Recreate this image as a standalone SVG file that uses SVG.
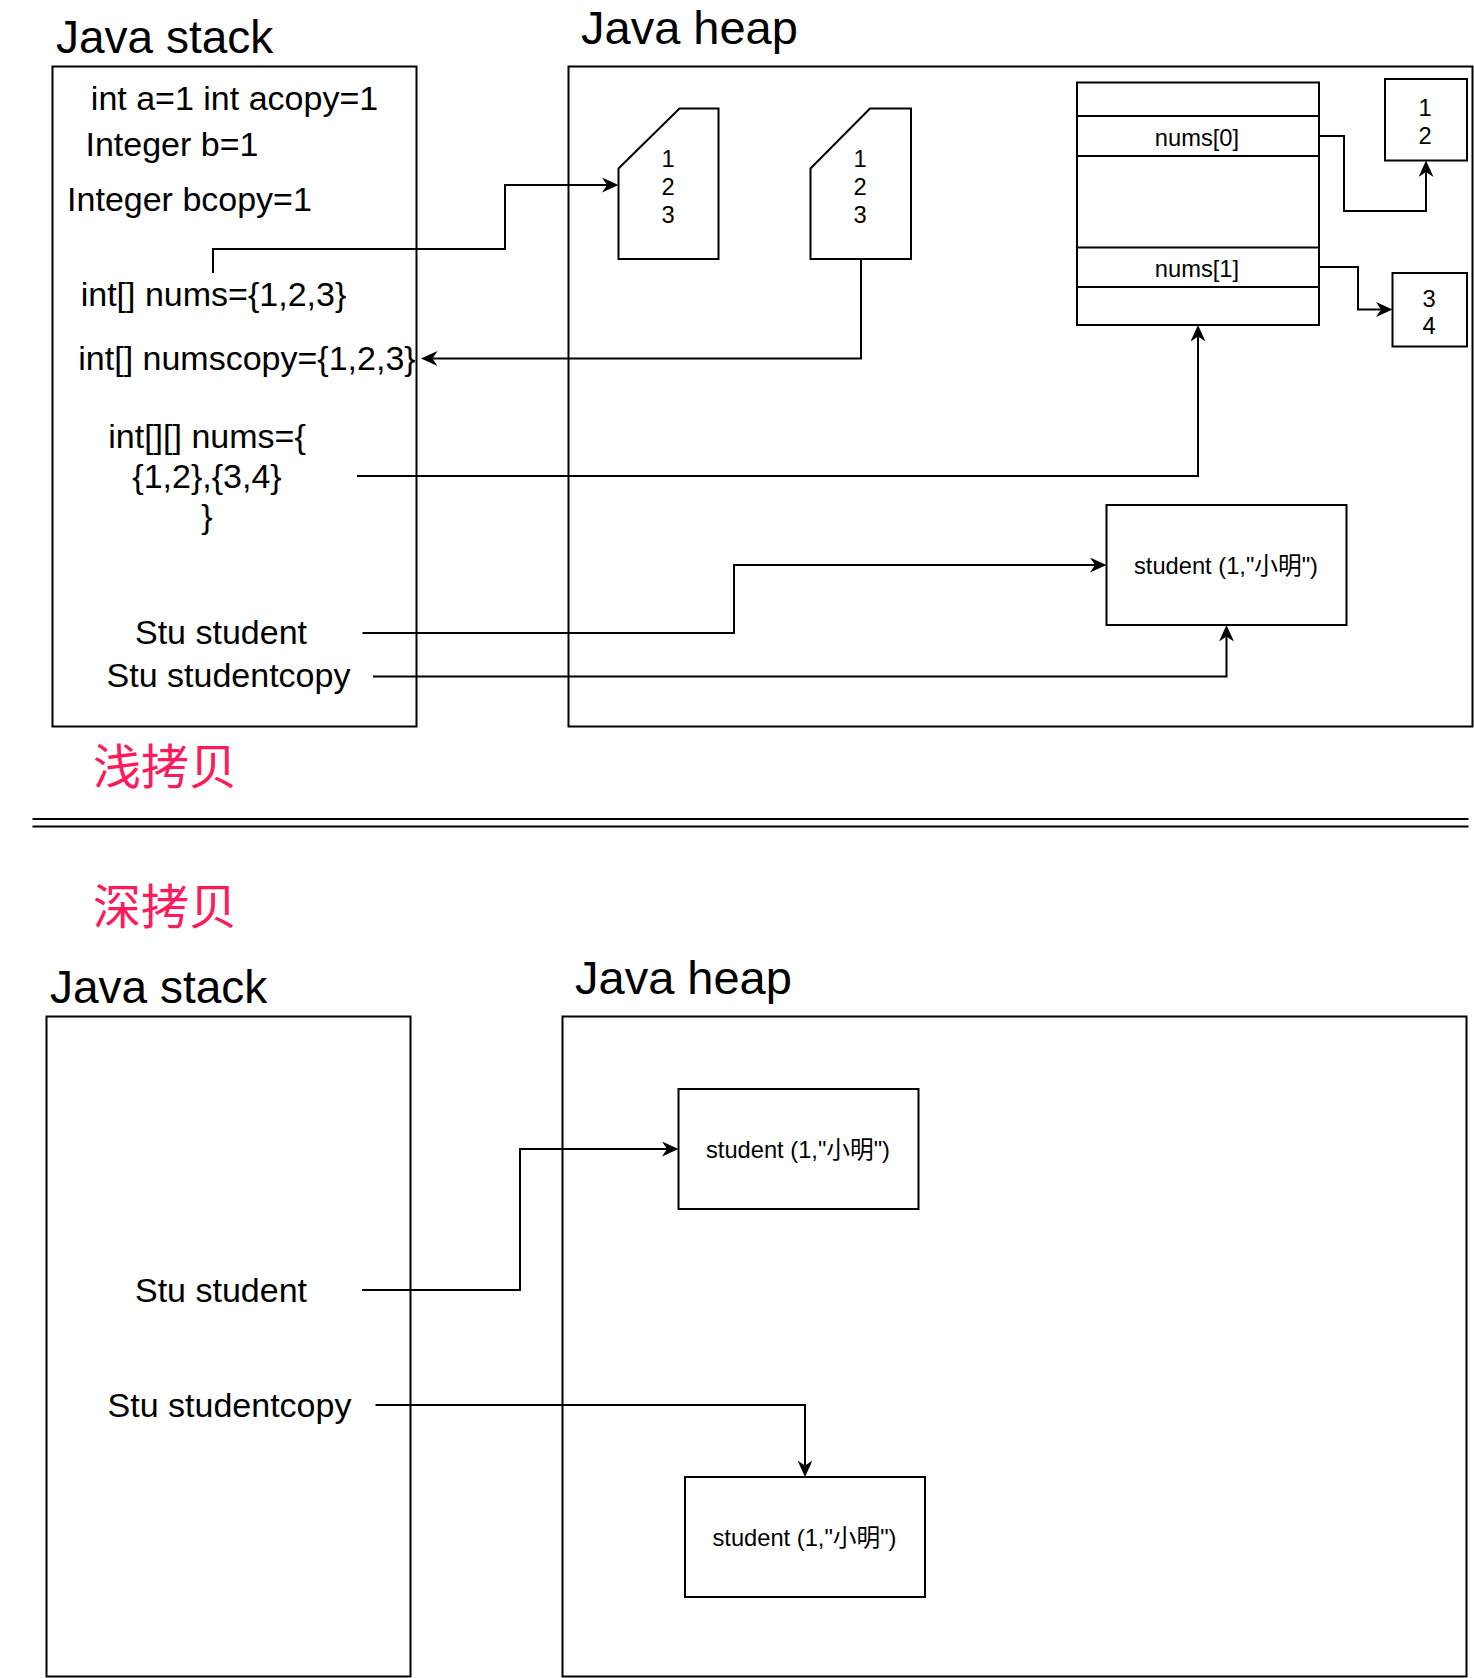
<svg xmlns="http://www.w3.org/2000/svg" width="1474" height="1678" viewBox="0 0 1474 1678">
<style>
.box{fill:#fff;stroke:#000;stroke-width:2}
.frame{fill:none;stroke:#000;stroke-width:2}
.t{font-family:"Liberation Sans","Noto Sans CJK SC",Arial,sans-serif;fill:#000}
.big{font-size:34px;text-anchor:middle}
.title{font-size:46px}
.sm{font-size:23.7px;text-anchor:middle}
.cn{font-family:"Noto Sans CJK SC",sans-serif;font-size:48px;fill:#FF1A5C}
.edge{fill:none;stroke:#000;stroke-width:2}
</style>
<defs>
<marker id="arr" viewBox="0 0 17 15" markerUnits="userSpaceOnUse" markerWidth="17" markerHeight="15" refX="5" refY="7.5" orient="auto">
<path d="M0,0 L16.5,7.5 L0,15 L5,7.5 Z" fill="#000"/>
</marker>
</defs>
<rect width="1474" height="1678" fill="#fff"/>

<!-- shallow copy section -->
<text class="t title" x="56" y="53">Java stack</text>
<text class="t title" x="581" y="44" style="font-size:47px">Java heap</text>
<g id="stack1">
<rect class="frame" x="52.5" y="66.5" width="364" height="660"/>
<text class="t big" x="234.5" y="110">int a=1 int acopy=1</text>
<text class="t big" x="172" y="156">Integer b=1</text>
<text class="t big" x="189.5" y="211">Integer bcopy=1</text>
<text class="t big" x="213.5" y="306">int[] nums={1,2,3}</text>
<text class="t big" x="247" y="369.5">int[] numscopy={1,2,3}</text>
<text class="t big" x="207" y="448">int[][] nums={</text>
<text class="t big" x="207" y="488">{1,2},{3,4}</text>
<text class="t big" x="207" y="528">}</text>
<text class="t big" x="221" y="643.5">Stu student</text>
<text class="t big" x="228.5" y="686.5">Stu studentcopy</text>
</g>
<g id="heap1">
<rect class="frame" x="568.5" y="66.5" width="904" height="660"/>
</g>
<g id="arr1">
<polygon class="box" points="679.5,108.5 718.5,108.5 718.5,259 618.5,259 618.5,168.5"/>
<text class="t sm" x="668" y="166.5">1</text>
<text class="t sm" x="668" y="194.5">2</text>
<text class="t sm" x="668" y="222.5">3</text>
</g>
<g id="arr2">
<polygon class="box" points="870,108.5 911,108.5 911,259 810.5,259 810.5,168.5"/>
<text class="t sm" x="860" y="166.5">1</text>
<text class="t sm" x="860" y="194.5">2</text>
<text class="t sm" x="860" y="222.5">3</text>
</g>
<g id="arr2d">
<rect class="box" x="1077" y="82.5" width="242" height="242.5"/>
<line class="frame" x1="1077" y1="116" x2="1319" y2="116"/>
<line class="frame" x1="1077" y1="156" x2="1319" y2="156"/>
<line class="frame" x1="1077" y1="247.5" x2="1319" y2="247.5"/>
<line class="frame" x1="1077" y1="287" x2="1319" y2="287"/>
<text class="t sm" x="1197" y="145.5">nums[0]</text>
<text class="t sm" x="1197" y="276.5">nums[1]</text>
</g>
<g id="row12">
<rect class="box" x="1385" y="79" width="82" height="81.5"/>
<text class="t sm" x="1425" y="116">1</text>
<text class="t sm" x="1425" y="144">2</text>
</g>
<g id="row34">
<rect class="box" x="1392.5" y="273" width="74.5" height="73.5"/>
<text class="t sm" x="1429" y="306.5">3</text>
<text class="t sm" x="1429" y="334">4</text>
</g>
<g id="student1">
<rect class="box" x="1106.5" y="505" width="240" height="120"/>
<text class="t sm" x="1226" y="573.5">student (1,"小明")</text>
</g>

<text class="cn" x="93" y="784">浅拷贝</text>
<g id="divider">
<line class="frame" x1="32.5" y1="819" x2="1468.5" y2="819"/>
<line class="frame" x1="32.5" y1="826.5" x2="1468.5" y2="826.5"/>
</g>

<!-- deep copy section -->
<text class="cn" x="93" y="924">深拷贝</text>
<text class="t title" x="50" y="1003">Java stack</text>
<text class="t title" x="575" y="994" style="font-size:47px">Java heap</text>
<g id="stack2">
<rect class="frame" x="46.5" y="1016.5" width="364" height="660"/>
<text class="t big" x="221" y="1301.5">Stu student</text>
<text class="t big" x="229.5" y="1416.5">Stu studentcopy</text>
</g>
<g id="heap2">
<rect class="frame" x="562.5" y="1016.5" width="904" height="660"/>
</g>
<g id="student2">
<rect class="box" x="678.5" y="1089" width="240" height="120"/>
<text class="t sm" x="798" y="1157.5">student (1,"小明")</text>
</g>
<g id="student3">
<rect class="box" x="685" y="1477" width="240" height="120"/>
<text class="t sm" x="804.5" y="1545.5">student (1,"小明")</text>
</g>

<g id="connectors">
<path class="edge" d="M213,273 V249 H505 V185 H607" marker-end="url(#arr)"/>
<path class="edge" d="M861,259 V358.5 H432.5" marker-end="url(#arr)"/>
<path class="edge" d="M357,476 H1198 V336.5" marker-end="url(#arr)"/>
<path class="edge" d="M362.5,633 H734 V565 H1095" marker-end="url(#arr)"/>
<path class="edge" d="M373,676.5 H1226.5 V636.5" marker-end="url(#arr)"/>
<path class="edge" d="M1319,136 H1344 V211 H1426 V172" marker-end="url(#arr)"/>
<path class="edge" d="M1319,267 H1358 V309.5 H1381" marker-end="url(#arr)"/>
<path class="edge" d="M362,1290 H520 V1149 H667" marker-end="url(#arr)"/>
<path class="edge" d="M375.5,1405 H805 V1465.5" marker-end="url(#arr)"/>
</g>
</svg>
